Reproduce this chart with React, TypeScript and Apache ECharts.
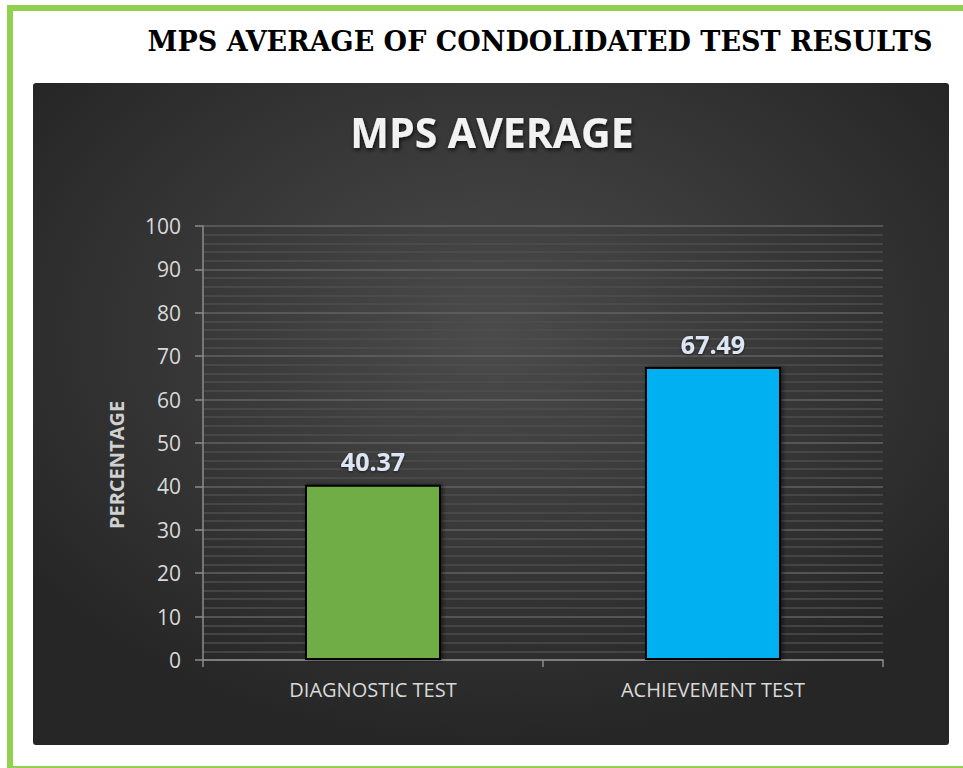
import React, { useEffect, useRef } from "react";
import * as echarts from "echarts";

const categories = ["DIAGNOSTIC TEST", "ACHIEVEMENT TEST"];
const mpsValues = [40.37, 67.49];
const barColors = ["#70AD47", "#00B0F0"];
const pageTitle = "MPS AVERAGE OF CONDOLIDATED TEST RESULTS";
const chartTitle = "MPS AVERAGE";
const yAxisName = "PERCENTAGE";

export default function App() {
  const ref = useRef<HTMLDivElement>(null);
  useEffect(() => {
    document.body.style.margin = "0";
    const chart = echarts.init(ref.current!, null, { renderer: "svg" });
    const font = "Open Sans";
    chart.setOption({
      animation: false,
      backgroundColor: "#ffffff",
      graphic: [
        {
          type: "rect",
          z: -10,
          silent: true,
          shape: { x: 10, y: 8, width: 1000, height: 761 },
          style: { fill: "none", stroke: "#92D050", lineWidth: 6 },
        },
        {
          type: "rect",
          z: -10,
          silent: true,
          shape: { x: 33, y: 83, width: 916, height: 662, r: 3 },
          style: {
            fill: new echarts.graphic.RadialGradient(0.5, 0.38, 0.62, [
              { offset: 0, color: "#4b4b4b" },
              { offset: 1, color: "#262626" },
            ]),
          },
        },
        {
          type: "text",
          z: 10,
          x: 540,
          y: 41,
          style: {
            text: pageTitle,
            font: "bold 27px 'DejaVu Serif'",
            fill: "#000000",
            align: "center",
            verticalAlign: "middle",
          },
        },
        {
          type: "text",
          z: 10,
          x: 116.5,
          y: 465,
          rotation: Math.PI / 2,
          style: {
            text: yAxisName,
            font: "bold 20px 'Open Sans'",
            fill: "#d0d0d0",
            align: "center",
            verticalAlign: "middle",
          },
        },
      ],
      title: {
        text: chartTitle,
        left: 487,
        top: 106,
        textAlign: "center",
        textStyle: {
          color: "#f2f2f2",
          fontSize: 41,
          fontWeight: "bold",
          fontFamily: font,
          textShadowColor: "rgba(0,0,0,0.8)",
          textShadowBlur: 4,
          textShadowOffsetX: 1,
          textShadowOffsetY: 2,
        },
      },
      grid: { left: 203, right: 80, top: 226, bottom: 108 },
      xAxis: {
        type: "category",
        data: categories,
        boundaryGap: true,
        axisLine: { show: true, lineStyle: { color: "#8c8c8c", width: 1.5 } },
        axisTick: { show: true, length: 7, lineStyle: { color: "#8c8c8c", width: 1.5 } },
        axisLabel: { color: "#d9d9d9", fontSize: 20, fontFamily: font, margin: 19 },
        splitLine: { show: false },
      },
      yAxis: {
        type: "value",
        min: 0,
        max: 100,
        interval: 10,
        axisLine: { show: true, lineStyle: { color: "#8c8c8c", width: 1.5 } },
        axisTick: { show: true, length: 8, lineStyle: { color: "#8c8c8c", width: 1.5 } },
        axisLabel: { color: "#d9d9d9", fontSize: 21, fontFamily: font, margin: 22 },
        splitLine: { show: true, lineStyle: { color: "#626262", width: 1.5 } },
        minorTick: { show: false, splitNumber: 5 },
        minorSplitLine: { show: true, lineStyle: { color: "#4e4e4e", width: 1.5 } },
      },
      series: [
        {
          type: "bar",
          barWidth: "40%",
          data: mpsValues.map((v, i) => ({
            value: v,
            itemStyle: { color: barColors[i] },
          })),
          itemStyle: {
            borderColor: "#000000",
            borderWidth: 2,
            shadowColor: "rgba(0,0,0,0.5)",
            shadowBlur: 4,
            shadowOffsetX: 2,
          },
          label: {
            show: true,
            position: "top",
            distance: 11,
            color: "#dce6f4",
            fontSize: 25,
            fontWeight: "bold",
            fontFamily: font,
            textShadowColor: "rgba(0,0,0,0.6)",
            textShadowBlur: 3,
            textShadowOffsetY: 1,
          },
        },
      ],
    });
    return () => chart.dispose();
  }, []);
  return (
    <div
      ref={ref}
      style={{ position: "absolute", left: 0, top: 0, width: 963, height: 768 }}
    />
  );
}
